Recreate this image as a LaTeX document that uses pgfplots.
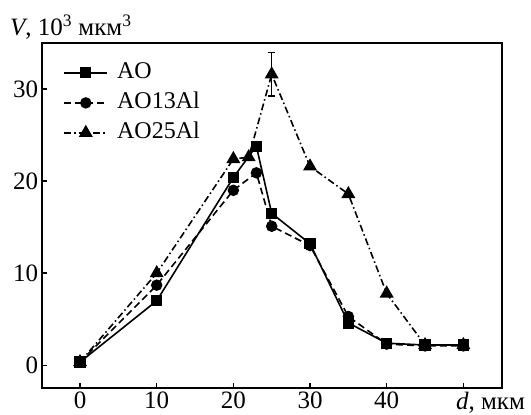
\documentclass[border=0pt]{standalone}
\usepackage{fontspec}
\setmainfont{Liberation Serif}
\usepackage{pgfplots}
\pgfplotsset{compat=1.18}
\newcommand\lbl{\fontsize{25bp}{29bp}\selectfont}

\begin{document}
\begin{tikzpicture}
\useasboundingbox (-41.7bp,-26.7bp) rectangle (489.3bp,388.3bp);
\begin{axis}[
  at={(0,0)}, anchor=south west, scale only axis, clip=false,
  width=460bp, height=345.3bp,
  xmin=-5, xmax=55, ymin=-2.5, ymax=35,
  xtick={0,10,20,30,40,50}, xticklabels={0,10,20,30,40,{}},
  ytick={0,10,20,30}, yticklabels={0,10,20,30},
  tick pos=left, tick align=inside, major tick length=5bp,
  axis line style={line width=1.8bp},
  tick style={line width=1.5bp, black},
  tick label style={font=\lbl},
  /pgf/number format/assume math mode=true,
  legend cell align=left,
  legend style={draw=none, fill=none, inner sep=0pt,
    at={(rel axis cs:0,1)}, anchor=north west, xshift=21.6bp, yshift=-14.7bp,
    font=\fontsize{24bp}{28bp}\selectfont,
    nodes={inner xsep=9bp, inner ysep=4bp, text height=17bp, text depth=5bp}},
  legend image code/.code={
    \draw[mark repeat=2, mark phase=2] plot coordinates {(0bp,0bp) (21.5bp,0bp) (43bp,0bp)};},
]
% AO
\addplot[black, solid, line width=1.6bp, mark=square*, mark size=4.8bp,
  mark options={solid, fill=black}] coordinates {
  (0,0.35) (10,7.0) (20,20.4) (23,23.8) (25,16.5) (30,13.2) (35,4.6)
  (40,2.4) (45,2.2) (50,2.2)};
\addlegendentry{AO}
% AO13Al
\addplot[black, line width=1.6bp, dash pattern=on 7bp off 4bp, mark=*, mark size=4.9bp,
  mark options={solid, fill=black}] coordinates {
  (0,0.35) (10,8.7) (20,19.0) (23,20.9) (25,15.1) (30,13.0) (35,5.3)
  (40,2.3) (45,2.1) (50,2.1)};
\addlegendentry{AO13Al}
% AO25Al
\addplot[black, line width=1.6bp, dash pattern=on 7bp off 3bp on 1.5bp off 3bp,
  mark=triangle*, mark size=6.5bp, mark options={solid, fill=black}] coordinates {
  (0,0.35) (10,10.0) (20,22.4) (22,22.6) (25,31.6) (30,21.6) (35,18.6)
  (40,7.8) (45,2.2) (50,2.2)};
\addlegendentry{AO25Al}
% error bar of the peak
\addplot[forget plot, draw=none, mark=none,
  error bars/.cd, y dir=both, y explicit,
  error bar style={draw=black, solid, line width=1.5bp},
  error mark options={draw=black, solid, rotate=90, mark size=3.8bp, line width=1.5bp}]
  coordinates {(25,31.6) +- (0,2.35)};

\node[font=\lbl, anchor=base west, inner sep=0pt]
  at (rel axis cs:0,1) [xshift=-31.7bp, yshift=7.3bp]
  {\textit{V}, 10\textsuperscript{3} мкм\textsuperscript{3}};
\node[font=\lbl, anchor=north west] at (axis cs:48.6,-2.5) {\textit{d}, мкм};
\end{axis}
\end{tikzpicture}
\end{document}
